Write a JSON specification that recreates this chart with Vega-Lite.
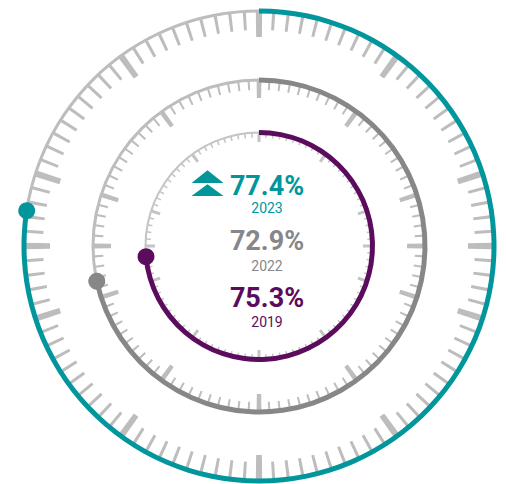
{
  "$schema": "https://vega.github.io/schema/vega-lite/v6.json",
  "width": 494,
  "height": 476,
  "padding": {"left": 12, "top": 8, "right": 0, "bottom": 0},
  "background": "white",
  "config": {"view": {"stroke": null}},
  "datasets": {
    "rings": [
      {"year": "2023", "label": "77.4%", "value": 77.4, "arcEnd": 77.4},
      {"year": "2022", "label": "72.9%", "value": 72.9, "arcEnd": 71.6},
      {"year": "2019", "label": "75.3%", "value": 75.3, "arcEnd": 73.5}
    ],
    "ticks": [
      {"p":0},{"p":1},{"p":2},{"p":3},{"p":4},{"p":5},{"p":6},{"p":7},{"p":8},{"p":9},
      {"p":10},{"p":11},{"p":12},{"p":13},{"p":14},{"p":15},{"p":16},{"p":17},{"p":18},{"p":19},
      {"p":20},{"p":21},{"p":22},{"p":23},{"p":24},{"p":25},{"p":26},{"p":27},{"p":28},{"p":29},
      {"p":30},{"p":31},{"p":32},{"p":33},{"p":34},{"p":35},{"p":36},{"p":37},{"p":38},{"p":39},
      {"p":40},{"p":41},{"p":42},{"p":43},{"p":44},{"p":45},{"p":46},{"p":47},{"p":48},{"p":49},
      {"p":50},{"p":51},{"p":52},{"p":53},{"p":54},{"p":55},{"p":56},{"p":57},{"p":58},{"p":59},
      {"p":60},{"p":61},{"p":62},{"p":63},{"p":64},{"p":65},{"p":66},{"p":67},{"p":68},{"p":69},
      {"p":70},{"p":71},{"p":72},{"p":73},{"p":74},{"p":75},{"p":76},{"p":77},{"p":78},{"p":79},
      {"p":80},{"p":81},{"p":82},{"p":83},{"p":84},{"p":85},{"p":86},{"p":87},{"p":88},{"p":89},
      {"p":90},{"p":91},{"p":92},{"p":93},{"p":94},{"p":95},{"p":96},{"p":97},{"p":98},{"p":99}
    ]
  },
  "encoding": {
    "theta": {"field": "p", "type": "quantitative", "scale": {"domain": [0, 100], "range": [0, 6.283185307]}}
  },
  "layer": [
    {
      "data": {"name": "ticks"},
      "mark": {"type": "arc", "radius": 236.5, "radius2": 233.5, "color": "#bdbdbd"},
      "encoding": {"theta": {"aggregate": "count", "type": "quantitative"}}
    },
    {
      "data": {"name": "ticks"},
      "transform": [{"filter": "datum.p % 10 != 0 && datum.p % 25 != 0"}],
      "mark": {"type": "arc", "radius": 234, "radius2": 216, "thetaOffset": -0.0067, "theta2Offset": 0.0067, "color": "#bdbdbd"},
      "encoding": {"theta2": {"field": "p"}}
    },
    {
      "data": {"name": "ticks"},
      "transform": [{"filter": "datum.p % 10 == 0 || datum.p % 25 == 0"}],
      "mark": {"type": "arc", "radius": 234, "radius2": 209, "thetaOffset": -0.0136, "theta2Offset": 0.0136, "color": "#bdbdbd"},
      "encoding": {"theta2": {"field": "p"}}
    },
    {
      "data": {"name": "ticks"},
      "mark": {"type": "arc", "radius": 167.5, "radius2": 164.5, "color": "#bdbdbd"},
      "encoding": {"theta": {"aggregate": "count", "type": "quantitative"}}
    },
    {
      "data": {"name": "ticks"},
      "transform": [{"filter": "datum.p % 10 != 0 && datum.p % 25 != 0"}],
      "mark": {"type": "arc", "radius": 165, "radius2": 156, "thetaOffset": -0.0063, "theta2Offset": 0.0063, "color": "#bdbdbd"},
      "encoding": {"theta2": {"field": "p"}}
    },
    {
      "data": {"name": "ticks"},
      "transform": [{"filter": "datum.p % 10 == 0 || datum.p % 25 == 0"}],
      "mark": {"type": "arc", "radius": 165, "radius2": 148, "thetaOffset": -0.0145, "theta2Offset": 0.0145, "color": "#bdbdbd"},
      "encoding": {"theta2": {"field": "p"}}
    },
    {
      "data": {"name": "ticks"},
      "mark": {"type": "arc", "radius": 114.5, "radius2": 112.5, "color": "#c4c4c4"},
      "encoding": {"theta": {"aggregate": "count", "type": "quantitative"}}
    },
    {
      "data": {"name": "ticks"},
      "transform": [{"filter": "datum.p % 10 != 0 && datum.p % 25 != 0"}],
      "mark": {"type": "arc", "radius": 113, "radius2": 108.5, "thetaOffset": -0.0068, "theta2Offset": 0.0068, "color": "#c4c4c4"},
      "encoding": {"theta2": {"field": "p"}}
    },
    {
      "data": {"name": "ticks"},
      "transform": [{"filter": "datum.p % 10 == 0 || datum.p % 25 == 0"}],
      "mark": {"type": "arc", "radius": 113, "radius2": 104, "thetaOffset": -0.014, "theta2Offset": 0.014, "color": "#c4c4c4"},
      "encoding": {"theta2": {"field": "p"}}
    },
    {
      "data": {"name": "rings"},
      "transform": [{"filter": "datum.year == '2023'"}],
      "mark": {"type": "arc", "radius": 237.5, "radius2": 232.5, "color": "#00969c"},
      "encoding": {"theta": {"field": "arcEnd", "type": "quantitative"}}
    },
    {
      "data": {"name": "rings"},
      "transform": [{"filter": "datum.year == '2022'"}],
      "mark": {"type": "arc", "radius": 168.5, "radius2": 163.5, "color": "#87878a"},
      "encoding": {"theta": {"field": "arcEnd", "type": "quantitative"}}
    },
    {
      "data": {"name": "rings"},
      "transform": [{"filter": "datum.year == '2019'"}],
      "mark": {"type": "arc", "radius": 116, "radius2": 111, "color": "#5c0c5c"},
      "encoding": {"theta": {"field": "arcEnd", "type": "quantitative"}}
    },
    {
      "data": {"name": "rings"},
      "transform": [{"filter": "datum.year == '2023'"}],
      "mark": {"type": "arc", "radius": 243.5, "radius2": 226.5, "cornerRadius": 8.5, "thetaOffset": -0.0362, "theta2Offset": 0.0362, "color": "#00969c"},
      "encoding": {"theta": {"field": "arcEnd", "type": "quantitative"}, "theta2": {"field": "arcEnd"}}
    },
    {
      "data": {"name": "rings"},
      "transform": [{"filter": "datum.year == '2022'"}],
      "mark": {"type": "arc", "radius": 174.5, "radius2": 157.5, "cornerRadius": 8.5, "thetaOffset": -0.0512, "theta2Offset": 0.0512, "color": "#87878a"},
      "encoding": {"theta": {"field": "arcEnd", "type": "quantitative"}, "theta2": {"field": "arcEnd"}}
    },
    {
      "data": {"name": "rings"},
      "transform": [{"filter": "datum.year == '2019'"}],
      "mark": {"type": "arc", "radius": 122, "radius2": 105, "cornerRadius": 8.5, "thetaOffset": -0.0749, "theta2Offset": 0.0749, "color": "#5c0c5c"},
      "encoding": {"theta": {"field": "arcEnd", "type": "quantitative"}, "theta2": {"field": "arcEnd"}}
    },
    {
      "data": {"name": "rings"},
      "transform": [{"filter": "datum.year == '2023'"}],
      "mark": {"type": "point", "shape": "M-1,0 L0,-0.8 L1,0 Z M-1,0.82 L0,0.08 L1,0.82 Z", "filled": true, "opacity": 1, "color": "#00969c", "size": 1024, "xOffset": -51.5, "yOffset": -63},
      "encoding": {"theta": null}
    },
    {
      "data": {"name": "rings"},
      "transform": [{"filter": "datum.year == '2023'"}],
      "mark": {"type": "text", "font": "Roboto", "fontWeight": "bold", "fontSize": 27, "align": "center", "baseline": "alphabetic", "dx": 8, "dy": -51, "color": "#00969c"},
      "encoding": {"theta": null, "text": {"field": "label"}}
    },
    {
      "data": {"name": "rings"},
      "transform": [{"filter": "datum.year == '2023'"}],
      "mark": {"type": "text", "font": "Roboto", "fontSize": 14, "align": "center", "baseline": "alphabetic", "dx": 8, "dy": -33, "color": "#00969c"},
      "encoding": {"theta": null, "text": {"field": "year"}}
    },
    {
      "data": {"name": "rings"},
      "transform": [{"filter": "datum.year == '2022'"}],
      "mark": {"type": "text", "font": "Roboto", "fontWeight": "bold", "fontSize": 27, "align": "center", "baseline": "alphabetic", "dx": 8, "dy": 4, "color": "#87878a"},
      "encoding": {"theta": null, "text": {"field": "label"}}
    },
    {
      "data": {"name": "rings"},
      "transform": [{"filter": "datum.year == '2022'"}],
      "mark": {"type": "text", "font": "Roboto", "fontSize": 14, "align": "center", "baseline": "alphabetic", "dx": 8, "dy": 25, "color": "#87878a"},
      "encoding": {"theta": null, "text": {"field": "year"}}
    },
    {
      "data": {"name": "rings"},
      "transform": [{"filter": "datum.year == '2019'"}],
      "mark": {"type": "text", "font": "Roboto", "fontWeight": "bold", "fontSize": 27, "align": "center", "baseline": "alphabetic", "dx": 8, "dy": 61, "color": "#5c0c5c"},
      "encoding": {"theta": null, "text": {"field": "label"}}
    },
    {
      "data": {"name": "rings"},
      "transform": [{"filter": "datum.year == '2019'"}],
      "mark": {"type": "text", "font": "Roboto", "fontSize": 14, "align": "center", "baseline": "alphabetic", "dx": 8, "dy": 81, "color": "#5c0c5c"},
      "encoding": {"theta": null, "text": {"field": "year"}}
    }
  ]
}
